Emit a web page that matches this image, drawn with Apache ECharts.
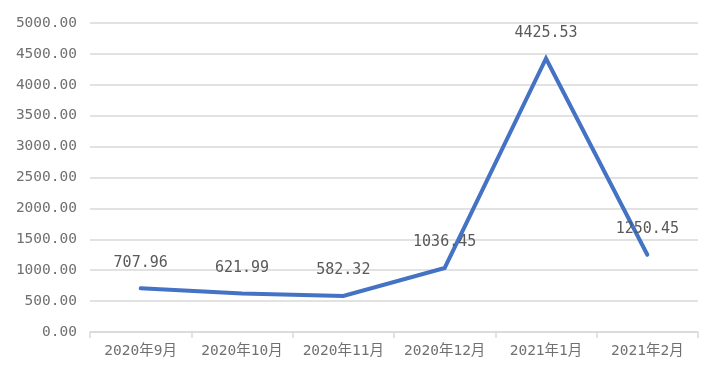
<!DOCTYPE html>
<html>
<head>
<meta charset="utf-8">
<script src="https://cdn.jsdelivr.net/npm/echarts@6/dist/echarts.min.js"></script>
<style>html,body{margin:0;padding:0;background:#fff}#c{width:720px;height:380px}</style>
</head>
<body>
<div id="c"></div>
<script>
const categories = ['2020年9月','2020年10月','2020年11月','2020年12月','2021年1月','2021年2月'];
const values = [707.96, 621.99, 582.32, 1036.45, 4425.53, 1250.45];

const chart = echarts.init(document.getElementById('c'), null, {renderer:'canvas'});
chart.setOption({
  animation: false,
  grid: {left: 90, right: 22, top: 23, bottom: 48, containLabel: false},
  xAxis: {
    type: 'category',
    data: categories,
    boundaryGap: true,
    axisLine: {show: true, lineStyle: {color: '#d9d9d9', width: 1.5}},
    axisTick: {show: true, length: 6, lineStyle: {color: '#d9d9d9', width: 1.5}},
    axisLabel: {interval: 0, color: '#707070', fontSize: 14.5, margin: 12, fontFamily: '"DejaVu Sans Mono","Noto Sans CJK SC",sans-serif'}
  },
  yAxis: {
    type: 'value',
    min: 0, max: 5000, interval: 500,
    axisLine: {show: false},
    axisTick: {show: false},
    splitLine: {lineStyle: {color: '#d9d9d9', width: 1.5}},
    axisLabel: {color: '#707070', fontSize: 14.5, margin: 13, fontFamily: '"DejaVu Sans Mono",monospace',
      formatter: v => v.toFixed(2)}
  },
  series: [{
    type: 'line',
    data: values,
    showSymbol: true,
    symbol: 'circle',
    symbolSize: 2,
    itemStyle: {color: 'rgba(68,114,196,0)', borderWidth: 0},
    lineStyle: {color: '#4472C4', width: 4, cap: 'round', join: 'miter'},
    label: {show: true, position: 'top', distance: 17, color: '#595959', fontSize: 15,
      fontFamily: '"DejaVu Sans Mono",monospace', formatter: p => p.value.toFixed(2)}
  }]
});
</script>
</body>
</html>
